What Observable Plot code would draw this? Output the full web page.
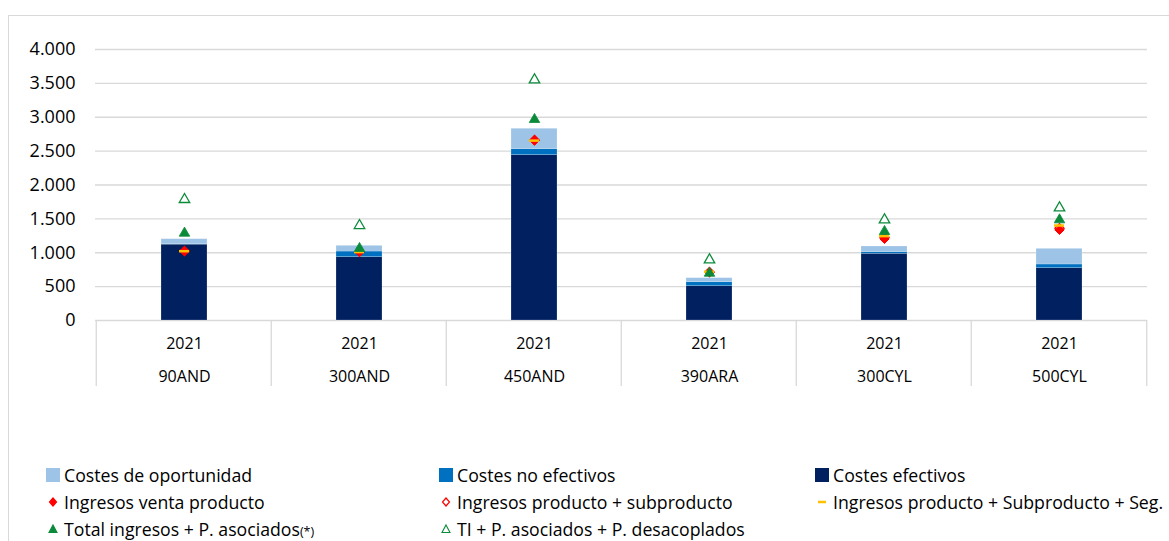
<!DOCTYPE html>
<html>
<head>
<meta charset="utf-8">
<script src="https://cdn.jsdelivr.net/npm/d3@7"></script>
<script src="https://cdn.jsdelivr.net/npm/@observablehq/plot@0.6"></script>
<style>
  body { margin: 0; background: #fff; font-family: "Open Sans", sans-serif; }
  #wrap { position: relative; width: 1169px; height: 541px; overflow: hidden; }
  #frame { position: absolute; left: 8px; top: 15px; width: 1200px; height: 600px; border-left: 1px solid #d9d9d9; border-top: 1px solid #d9d9d9; }
  #chart { position: absolute; left: 0; top: 0; }
  #legend { position: absolute; left: 0; top: 0; width: 1169px; height: 541px; font-size: 17.7px; color: #000; }
  .li { position: absolute; display: flex; align-items: center; white-space: nowrap; height: 26px; }
  .li svg { margin-right: 4px; }
  .ast { font-size: 12.5px; }
</style>
</head>
<body>
<div id="wrap">
  <div id="frame"></div>
  <div id="chart"></div>
  <div id="legend"></div>
</div>
<script>
const categories = ["90AND", "300AND", "450AND", "390ARA", "300CYL", "500CYL"];
const years = ["2021", "2021", "2021", "2021", "2021", "2021"];
const costesEfectivos = [1120, 935, 2440, 506, 985, 772];
const costesNoEfectivos = [5, 83, 90, 59, 25, 55];
const costesOportunidad = [75, 84, 300, 60, 82, 231];
const ingresosVenta = [1023, 1018, 2657, 713, 1205, 1338];
const ingresosProdSub = [1025, 1015, 2665, 716, 1228, 1362];
const ingresosProdSubSeg = [1023, 1010, 2655, 720, 1245, 1402];
const totalIngresosAsoc = [1289, 1063, 2967, 698, 1314, 1486];
const tiAsocDesacop = [1786, 1402, 3553, 896, 1486, 1663];
const yTicks = [0, 500, 1000, 1500, 2000, 2500, 3000, 3500, 4000];

const colors = {
  oportunidad: "#9DC3E6",
  noEfectivos: "#0070C0",
  efectivos: "#002060",
  red: "#FF0000",
  yellow: "#FFC000",
  green: "#0B8A3A"
};

const stackOrder = ["Costes efectivos", "Costes no efectivos", "Costes de oportunidad"];
const bars = [];
categories.forEach((c, i) => {
  bars.push({cat: c, serie: "Costes efectivos", v: costesEfectivos[i]});
  bars.push({cat: c, serie: "Costes no efectivos", v: costesNoEfectivos[i]});
  bars.push({cat: c, serie: "Costes de oportunidad", v: costesOportunidad[i]});
});
const pts = categories.map((c, i) => ({
  cat: c, year: years[i],
  venta: ingresosVenta[i], prodSub: ingresosProdSub[i], seg: ingresosProdSubSeg[i],
  total: totalIngresosAsoc[i], ti: tiAsocDesacop[i]
}));

const fmt = d3.formatLocale({decimal: ",", thousands: ".", grouping: [3], currency: ["", ""]}).format(",");

const pad = 0.74;

const plot = Plot.plot({
  width: 1169,
  height: 400,
  marginTop: 49,
  marginBottom: 80,
  marginLeft: 95,
  marginRight: 22,
  style: {fontFamily: "'Open Sans', sans-serif", fontSize: "16px", color: "#000", background: "transparent"},
  x: {domain: categories, paddingInner: pad, paddingOuter: pad / 2, align: 0.5, axis: null},
  y: {domain: [0, 4000], ticks: yTicks, axis: null},
  color: {domain: stackOrder, range: [colors.efectivos, colors.noEfectivos, colors.oportunidad]},
  marks: [
    Plot.ruleY(yTicks, {stroke: "#d9d9d9", strokeWidth: 1.3}),
    Plot.axisY({ticks: yTicks, tickSize: 0, tickPadding: 20, tickFormat: fmt, label: null, fontSize: 18}),
    Plot.barY(bars, Plot.stackY({x: "cat", y: "v", fill: "serie", order: stackOrder, stroke: "#ffffff", strokeOpacity: 0.35, strokeWidth: 0.6})),
    Plot.dot(pts, {x: "cat", y: "venta", symbol: "diamond2", r: 4.2, fill: colors.red, stroke: colors.red, strokeWidth: 1}),
    Plot.dot(pts, {x: "cat", y: "prodSub", symbol: "diamond2", r: 4.2, fill: "none", stroke: colors.red, strokeWidth: 1.2}),
    Plot.tickY(pts, {x: "cat", y: "seg", stroke: colors.yellow, strokeWidth: 2.5, insetLeft: 18, insetRight: 18}),
    Plot.dot(pts, {x: "cat", y: "total", symbol: "triangle2", r: 5, fill: colors.green, stroke: colors.green, strokeWidth: 0.8}),
    Plot.dot(pts, {x: "cat", y: "ti", symbol: "triangle2", r: 5, fill: "white", stroke: colors.green, strokeWidth: 1.3}),
    Plot.text(pts, {x: "cat", text: "year", frameAnchor: "bottom", dy: 28, fontSize: 16}),
    Plot.text(pts, {x: "cat", text: "cat", frameAnchor: "bottom", dy: 61, fontSize: 16}),
    (index, scales, values, dims) => {
      const g = d3.create("svg:g");
      const x = scales.x;
      const step = x.step();
      const y0 = dims.height - dims.marginBottom;
      const edges = categories.map(c => x(c) - step * pad / 2);
      edges.push(x(categories[categories.length - 1]) + x.bandwidth() + step * pad / 2);
      edges.forEach(e => {
        g.append("line").attr("x1", e).attr("x2", e).attr("y1", y0).attr("y2", y0 + 66)
          .attr("stroke", "#d9d9d9").attr("stroke-width", 1.3);
      });
      return g.node();
    }
  ]
});
document.getElementById("chart").appendChild(plot);

// legend
const sq = c => `<svg width="14" height="14"><rect x="0" y="0" width="14" height="14" fill="${c}"/></svg>`;
const dia = (f, s) => `<svg width="14" height="14"><path d="M7 3 L10.5 7 L7 11 L3.5 7 Z" fill="${f}" stroke="${s}" stroke-width="1.2"/></svg>`;
const tri = (f, s) => `<svg width="14" height="14"><path d="M7 3 L11 10.5 L3 10.5 Z" fill="${f}" stroke="${s}" stroke-width="1.1"/></svg>`;
const dash = c => `<svg width="14" height="14"><line x1="3" x2="11" y1="7" y2="7" stroke="${c}" stroke-width="2.5"/></svg>`;
const legendItems = [
  {x: 46, y: 475, sym: sq(colors.oportunidad), label: "Costes de oportunidad"},
  {x: 439, y: 475, sym: sq(colors.noEfectivos), label: "Costes no efectivos"},
  {x: 815, y: 475, sym: sq(colors.efectivos), label: "Costes efectivos"},
  {x: 46, y: 502, sym: dia(colors.red, colors.red), label: "Ingresos venta producto"},
  {x: 439, y: 502, sym: dia("white", colors.red), label: "Ingresos producto + subproducto"},
  {x: 815, y: 502, sym: dash(colors.yellow), label: "Ingresos producto + Subproducto + Seg."},
  {x: 46, y: 529, sym: tri(colors.green, colors.green), label: "Total ingresos + P. asociados<span class='ast'>(*)</span>"},
  {x: 439, y: 529, sym: tri("white", colors.green), label: "TI + P. asociados + P. desacoplados"}
];
const lg = document.getElementById("legend");
legendItems.forEach(it => {
  const d = document.createElement("div");
  d.className = "li";
  d.style.left = it.x + "px";
  d.style.top = (it.y - 13) + "px";
  d.innerHTML = it.sym + "<span>" + it.label + "</span>";
  lg.appendChild(d);
});
</script>
</body>
</html>
